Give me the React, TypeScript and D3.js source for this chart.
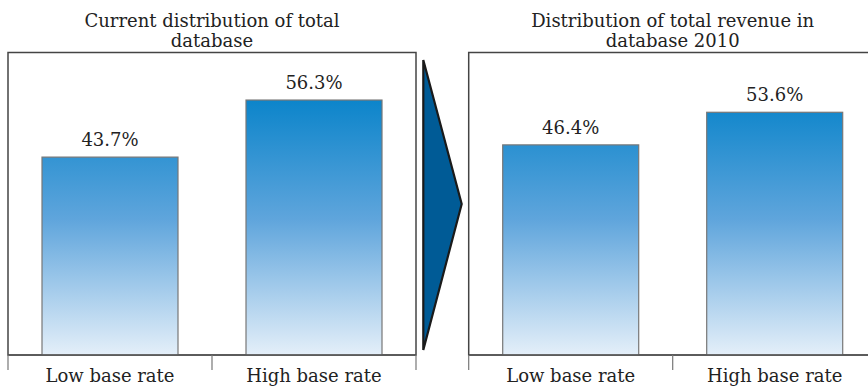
import React from "react";
import * as d3 from "d3";

const categories = ["Low base rate", "High base rate"];
const currentValues = [43.7, 56.3];
const revenueValues = [46.4, 53.6];
const titleCurrent = ["Current distribution of total", "database"];
const titleRevenue = ["Distribution of total revenue in", "database 2010"];

const W = 868;
const H = 386;
const plotTop = 52.5;
const plotBottom = 355;
const yMax = 66.8;
const font = "'DejaVu Serif', 'Liberation Serif', serif";

const y = d3.scaleLinear().domain([0, yMax]).range([plotBottom, plotTop]);

function Panel({ x0, x1, values, title, id }: { x0: number; x1: number; values: number[]; title: string[]; id: string }) {
  const x = d3.scaleBand<string>().domain(categories).range([x0, x1]).paddingInner(1 / 3).paddingOuter(1 / 6);
  const step = x.step();
  const ticks = [x0, x0 + step, x0 + 2 * step];
  const cx = (x0 + x1) / 2;
  return (
    <g>
      <defs>
        <linearGradient id={id} gradientUnits="userSpaceOnUse" x1={0} x2={0} y1={y(60)} y2={y(0)}>
          <stop offset="0" stopColor="#0080c8" />
          <stop offset="0.5" stopColor="#5fa5dc" />
          <stop offset="1" stopColor="#e4eff9" />
        </linearGradient>
      </defs>
      <text textAnchor="middle" fontFamily={font} fontSize={18} fill="#222">
        {title.map((t, i) => (
          <tspan key={i} x={cx} y={26.7 + i * 20}>
            {t}
          </tspan>
        ))}
      </text>
      <rect x={x0} y={plotTop} width={x1 - x0} height={plotBottom - plotTop} fill="none" stroke="#444" strokeWidth={1.5} />
      {categories.map((c, i) => (
        <g key={c}>
          <rect
            x={x(c)!}
            y={y(values[i])}
            width={x.bandwidth()}
            height={plotBottom - y(values[i])}
            fill={`url(#${id})`}
            stroke="#777"
            strokeWidth={1.2}
          />
          <text x={x(c)! + x.bandwidth() / 2} y={y(values[i]) - 11} textAnchor="middle" fontFamily={font} fontSize={18} fill="#222">
            {values[i].toFixed(1)}%
          </text>
          <text x={x(c)! + x.bandwidth() / 2} y={381.5} textAnchor="middle" fontFamily={font} fontSize={18} fill="#222">
            {c}
          </text>
        </g>
      ))}
      <line x1={x0} x2={x1} y1={plotBottom} y2={plotBottom} stroke="#555" strokeWidth={1.5} />
      {ticks.map((t, i) => (
        <line key={i} x1={t} x2={t} y1={plotBottom} y2={370} stroke="#777" strokeWidth={1.2} />
      ))}
    </g>
  );
}

export default function App() {
  const arrow = d3.line()([
    [423.3, 60],
    [461.7, 204],
    [423.3, 350],
  ]) + "Z";
  return (
    <svg width={W} height={H} style={{ position: "absolute", left: 0, top: 0, background: "#fff" }}>
      <rect width={W} height={H} fill="#fff" />
      <Panel x0={8} x1={416} values={currentValues} title={titleCurrent} id="gradL" />
      <Panel x0={468.7} x1={876.7} values={revenueValues} title={titleRevenue} id="gradR" />
      <path d={arrow} fill="#005b96" stroke="#1a1a1a" strokeWidth={2.2} strokeLinejoin="miter" />
    </svg>
  );
}
